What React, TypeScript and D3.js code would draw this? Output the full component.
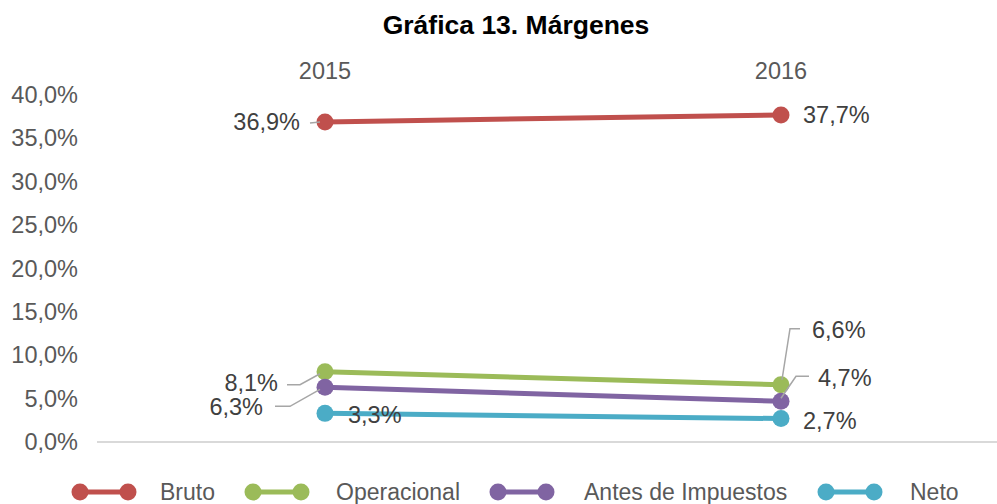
import React from 'react';
import * as d3 from 'd3';

const years = ['2015', '2016'];
const seriesNames = ['Bruto', 'Operacional', 'Antes de Impuestos', 'Neto'];
const bruto = [36.9, 37.7];
const operacional = [8.1, 6.6];
const antesImpuestos = [6.3, 4.7];
const neto = [3.3, 2.7];
const yTicks = [0, 5, 10, 15, 20, 25, 30, 35, 40];

const colors = ['#C0504D', '#9BBB59', '#8064A2', '#4BACC6'];

// manual data label placement (dx, dy from point, anchor, leader line)
type LabelPos = { dx: number; dy: number; anchor: string; leader?: [number, number][] };
const labelPos: LabelPos[][] = [
  [
    { dx: -25, dy: 8, anchor: 'end', leader: [[-15, 1], [-5, 0]] },
    { dx: 22, dy: 8, anchor: 'start' }
  ],
  [
    { dx: -47, dy: 19, anchor: 'end', leader: [[-38, 13], [-25, 13], [-5, 2]] },
    { dx: 31, dy: -47, anchor: 'start', leader: [[19, -56], [9, -56], [1, -5]] }
  ],
  [
    { dx: -62, dy: 28, anchor: 'end', leader: [[-50, 19], [-35, 19], [-5, 2]] },
    { dx: 37, dy: -15, anchor: 'start', leader: [[28, -25], [15, -25], [0, -3]] }
  ],
  [
    { dx: 23, dy: 10, anchor: 'start' },
    { dx: 22, dy: 10, anchor: 'start' }
  ]
];

export default function App() {
  const width = 997;
  const height = 504;
  const values = [bruto, operacional, antesImpuestos, neto];

  const x = d3.scalePoint<string>().domain(years).range([325, 781]);
  const y = d3.scaleLinear().domain([0, 40]).range([442, 95]);
  const line = d3
    .line<number>()
    .x((_, i) => x(years[i]) as number)
    .y((d) => y(d));

  const fmt = (v: number) => v.toFixed(1).replace('.', ',') + '%';

  // legend layout: circle start x, text x
  const legendX = [80, 253, 498, 826];
  const legendTextX = [160, 336, 584, 910];

  return (
    <svg
      width={width}
      height={height}
      style={{ position: 'absolute', left: 0, top: 0, fontFamily: "'Liberation Sans', Arial, sans-serif" }}
    >
      <rect width={width} height={height} fill="#fff" />
      <text x={516} y={34} textAnchor="middle" fontSize={26.5} fontWeight="bold" fill="#000">
        Gráfica 13. Márgenes
      </text>

      {/* y axis labels */}
      {yTicks.map((t) => (
        <text key={t} x={78} y={y(t) + 8} textAnchor="end" fontSize={23.5} fill="#595959">
          {fmt(t)}
        </text>
      ))}

      {/* x axis labels at the top */}
      {years.map((yr) => (
        <text key={yr} x={x(yr)} y={79} textAnchor="middle" fontSize={23.5} fill="#595959">
          {yr}
        </text>
      ))}

      <line x1={97} x2={997} y1={y(0)} y2={y(0)} stroke="#D9D9D9" strokeWidth={2} />

      {/* lines */}
      {values.map((vals, s) => (
        <g key={seriesNames[s]}>
          <path d={line(vals) || ''} fill="none" stroke={colors[s]} strokeWidth={5} />
          {vals.map((v, i) => (
            <circle key={i} cx={x(years[i])} cy={y(v)} r={8.5} fill={colors[s]} />
          ))}
        </g>
      ))}

      {/* data labels */}
      {values.map((vals, s) =>
        vals.map((v, i) => {
          const px = x(years[i]) as number;
          const py = y(v);
          const p = labelPos[s][i];
          return (
            <g key={`${s}-${i}`}>
              {p.leader && (
                <polyline
                  points={p.leader.map(([a, b]) => `${px + a},${py + b}`).join(' ')}
                  fill="none"
                  stroke="#A6A6A6"
                  strokeWidth={1.5}
                />
              )}
              <text x={px + p.dx} y={py + p.dy} textAnchor={p.anchor} fontSize={23.5} fill="#404040">
                {fmt(v)}
              </text>
            </g>
          );
        })
      )}

      {/* legend */}
      {seriesNames.map((name, s) => (
        <g key={name}>
          <line x1={legendX[s]} x2={legendX[s] + 48} y1={492} y2={492} stroke={colors[s]} strokeWidth={5} />
          <circle cx={legendX[s]} cy={492} r={8.5} fill={colors[s]} />
          <circle cx={legendX[s] + 48} cy={492} r={8.5} fill={colors[s]} />
          <text x={legendTextX[s]} y={500} fontSize={23} fill="#595959">
            {name}
          </text>
        </g>
      ))}
    </svg>
  );
}
